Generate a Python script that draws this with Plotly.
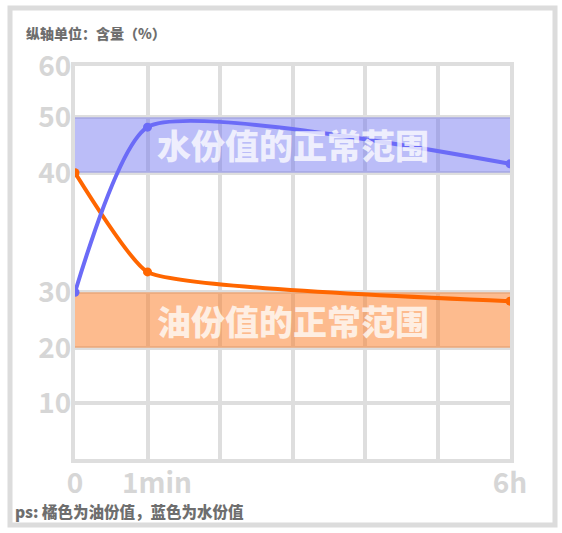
import numpy as np
import plotly.graph_objects as go

# ---- data ----
x_cats = ["0", "\u00a0\u00a0\u00a01min", "", "", "", "", "6h"]
x_pos = [0, 1, 6]              # sample times on the category grid (0, 1min, 6h)
oil_values = [40.0, 31.7, 28.4]    # 油份值 (%)
water_values = [30.0, 48.2, 41.6]  # 水份值 (%)
y_tick_values = [0, 10, 20, 30, 40, 50, 60]
y_tick_labels = ["", "10", "20", "30", "40", "50", "60"]
water_range = [40, 50]
oil_range = [20, 30]

# non-linear axis scale of the original (30-40 interval is stretched)
SCALE_POS = [0, 1.0, 2.0, 3.0, 5.15, 6.15, 7.07]


def ymap(v):
    return np.interp(v, y_tick_values, SCALE_POS)


GRID = "#dedede"
TICKC = "#d6d6d6"
FONT = "Noto Sans CJK SC"

fig = go.Figure()

fig.add_trace(go.Scatter(
    x=x_pos, y=ymap(oil_values), mode="lines+markers",
    line=dict(color="#ff6600", width=4, shape="spline", smoothing=0.4),
    marker=dict(color="#ff6600", size=9), hoverinfo="skip", showlegend=False))
fig.add_trace(go.Scatter(
    x=x_pos, y=ymap(water_values), mode="lines+markers",
    line=dict(color="#6b6bf7", width=4, shape="spline", smoothing=0.55),
    marker=dict(color="#6b6bf7", size=9), hoverinfo="skip", showlegend=False))

# normal range bands
fig.add_shape(type="rect", xref="x", yref="y", x0=0, x1=6,
              y0=float(ymap(water_range[0])), y1=float(ymap(water_range[1])),
              fillcolor="rgba(110,115,240,0.47)", line=dict(width=0), layer="between")
fig.add_shape(type="rect", xref="x", yref="y", x0=0, x1=6,
              y0=float(ymap(oil_range[0])), y1=float(ymap(oil_range[1])),
              fillcolor="rgba(251,120,30,0.5)", line=dict(width=0), layer="between")

fig.add_annotation(x=3, y=float(ymap(sum(water_range) / 2)), xref="x", yref="y",
                   text="水份值的正常范围", showarrow=False,
                   font=dict(family=FONT, size=34, color="rgba(255,255,255,0.75)", weight=900))
fig.add_annotation(x=3, y=float(ymap(sum(oil_range) / 2)), xref="x", yref="y",
                   text="油份值的正常范围", showarrow=False,
                   font=dict(family=FONT, size=34, color="rgba(255,255,255,0.75)", weight=900))

# outer frame
W, H = 562, 533
L, R, T, B = 75, 52, 66, 74
pw, ph = W - L - R, H - T - B


def px_x(p):
    return (p - L) / pw


def px_y(p):
    return (H - B - p) / ph


fig.add_shape(type="rect", xref="paper", yref="paper",
              x0=px_x(10), x1=px_x(555), y0=px_y(525), y1=px_y(8),
              line=dict(color="#dcdcdc", width=5), fillcolor="rgba(0,0,0,0)", layer="below")

fig.add_annotation(x=px_x(24), y=px_y(33), xref="paper", yref="paper", xanchor="left",
                   yanchor="middle", text="纵轴单位：含量（%）", showarrow=False,
                   font=dict(family=FONT, size=14, color="#6e6e6e", weight=900))
fig.add_annotation(x=px_x(13), y=px_y(511), xref="paper", yref="paper", xanchor="left",
                   yanchor="middle", text="ps: 橘色为油份值，蓝色为水份值", showarrow=False,
                   font=dict(family=FONT, size=15.5, color="#6e6e6e", weight=900))

fig.update_xaxes(range=[0, 6], tickvals=list(range(7)), ticktext=x_cats,
                 showgrid=True, gridcolor=GRID, gridwidth=4,
                 showline=True, linecolor=GRID, linewidth=4, mirror=True,
                 zeroline=False, ticks="", ticklabelstandoff=-4,
                 tickfont=dict(family=FONT, size=28, color=TICKC, weight="bold"),
                 fixedrange=True)
fig.update_yaxes(range=[0, SCALE_POS[-1]], tickvals=[float(v) for v in ymap(y_tick_values)],
                 ticktext=y_tick_labels,
                 showgrid=True, gridcolor=GRID, gridwidth=4,
                 showline=True, linecolor=GRID, linewidth=4, mirror=True,
                 zeroline=False, ticks="", ticklabelstandoff=-6,
                 tickfont=dict(family=FONT, size=28, color=TICKC, weight="bold"),
                 fixedrange=True)

fig.update_layout(width=W, height=H, margin=dict(l=L, r=R, t=T, b=B),
                  paper_bgcolor="white", plot_bgcolor="white", showlegend=False)

fig.write_html("out.html", config={"displayModeBar": False},
               post_script="document.body.style.margin='0';")
